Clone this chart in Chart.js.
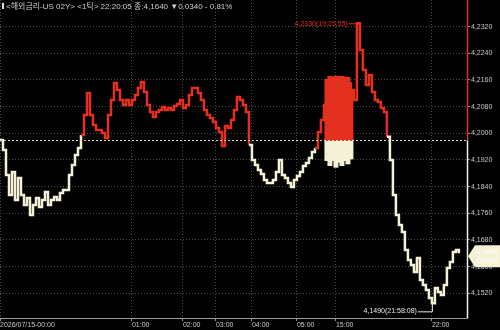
<!DOCTYPE html>
<html>
<head>
<meta charset="utf-8">
<script src="https://cdn.jsdelivr.net/npm/chart.js@4"></script>
<style>
  html, body { margin: 0; padding: 0; background: #000; }
  #wrap { width: 500px; height: 330px; position: relative; }
</style>
</head>
<body>
<div id="wrap"><canvas id="chart_tick"></canvas></div>
<script>
// 1-tick series, one value per sampled tick
const prices = [
  4.1980, 4.1950, 4.1875, 4.1815, 4.1884, 4.1800, 4.1866, 4.1815, 4.1785, 4.1806,
  4.1755, 4.1785, 4.1806, 4.1779, 4.1800, 4.1824, 4.1785, 4.1800, 4.1809, 4.1800,
  4.1821, 4.1830, 4.1830, 4.1875, 4.1905, 4.1935, 4.1956, 4.1995, 4.2055, 4.2121,
  4.2055, 4.2025, 4.2010, 4.2010, 4.2001, 4.1986, 4.2055, 4.2100, 4.2151, 4.2130,
  4.2100, 4.2085, 4.2100, 4.2085, 4.2100, 4.2115, 4.2136, 4.2154, 4.2124, 4.2085,
  4.2064, 4.2049, 4.2064, 4.2070, 4.2079, 4.2070, 4.2076, 4.2070, 4.2082, 4.2088,
  4.2100, 4.2076, 4.2085, 4.2115, 4.2136, 4.2136, 4.2121, 4.2100, 4.2070, 4.2055,
  4.2046, 4.2034, 4.2016, 4.2004, 4.1962, 4.2022, 4.2016, 4.2040, 4.2070, 4.2109,
  4.2100, 4.2085, 4.2064, 4.1965, 4.1920, 4.1905, 4.1890, 4.1878, 4.1860, 4.1851,
  4.1851, 4.1860, 4.1884, 4.1920, 4.1875, 4.1866, 4.1851, 4.1839, 4.1860, 4.1872,
  4.1884, 4.1902, 4.1911, 4.1926, 4.1944, 4.1956, 4.2004, 4.2040, 4.2085, 4.2160,
  4.2166, 4.2160, 4.2169, 4.2155, 4.2166, 4.2160, 4.2150, 4.2130, 4.2100, 4.2330,
  4.2250, 4.2190, 4.2145, 4.2175, 4.2124, 4.2100, 4.2094, 4.2076, 4.2064, 4.1990,
  4.1920, 4.1815, 4.1755, 4.1725, 4.1704, 4.1650, 4.1620, 4.1605, 4.1584, 4.1626,
  4.1560, 4.1545, 4.1530, 4.1506, 4.1490, 4.1536, 4.1524, 4.1515, 4.1545, 4.1596,
  4.1614, 4.1644, 4.1650, 4.1640
];

// dense trading block (high/low range per tick)
const blockStart = 109;
const blockHigh = [4.2160, 4.2169, 4.2166, 4.2169, 4.2166, 4.2169, 4.2160, 4.2166, 4.2130];
const blockLow  = [4.1920, 4.1905, 4.1920, 4.1900, 4.1915, 4.1905, 4.1920, 4.1910, 4.1925];

const prevClose = 4.1980;
const timeIdx = [0, 44, 61, 72, 84, 99, 112, 144];
const timeLabels = ['2026/07/15-00:00', '01:00', '02:00', '03:00', '04:00', '05:00', '15:00', '22:00'];
const priceTicks = [4.152, 4.160, 4.168, 4.176, 4.184, 4.192, 4.200, 4.208, 4.216, 4.224, 4.232];
const maxTime = '19:25:55';
const minTime = '21:58:08';
const header = '<해외금리-US 02Y> <1틱> 22:20:05 종:4,1640 ▼0.0340 - 0.81%';

const RED = '#e4301f';
const CREAM = '#f4f1d6';
const GRID = '#4c4c4c';
const fontFam = '"Liberation Sans", "Noto Sans CJK KR", sans-serif';

function fmt(v) {
  return v.toFixed(4).replace('.', ',');
}

const lineData = prices.map((p, i) => ({ x: i, y: p }));
const redBars = blockHigh.map((h, i) => ({ x: blockStart + i, y: [prevClose, h] }));
const creamBars = blockLow.map((l, i) => ({ x: blockStart + i, y: [l, prevClose] }));

const overlay = {
  id: 'overlay',
  afterDatasetsDraw(chart) {
    const ctx = chart.ctx;
    const area = chart.chartArea;
    const xs = chart.scales.x;
    const ys = chart.scales.y;
    const baseY = Math.round(ys.getPixelForValue(prevClose)) + 0.5;

    ctx.save();
    // previous close line
    ctx.setLineDash([2, 2]);
    ctx.strokeStyle = '#d8d8d8';
    ctx.lineWidth = 1;
    ctx.beginPath();
    ctx.moveTo(area.left, baseY);
    ctx.lineTo(area.right, baseY);
    ctx.stroke();
    ctx.setLineDash([]);

    // right axis line, red above / white below
    const ax = Math.round(area.right) + 0.5;
    ctx.lineWidth = 1.5;
    ctx.strokeStyle = RED;
    ctx.beginPath(); ctx.moveTo(ax, area.top); ctx.lineTo(ax, baseY); ctx.stroke();
    ctx.strokeStyle = '#f0f0f0';
    ctx.beginPath(); ctx.moveTo(ax, baseY); ctx.lineTo(ax, area.bottom); ctx.stroke();

    ctx.font = '7px ' + fontFam;
    ctx.textBaseline = 'middle';
    ctx.lineWidth = 1;

    // max marker
    let hi = 0, lo = 0;
    prices.forEach((p, i) => { if (p > prices[hi]) hi = i; if (p < prices[lo]) lo = i; });
    const hx = xs.getPixelForValue(hi), hy = ys.getPixelForValue(prices[hi]);
    ctx.fillStyle = RED;
    ctx.strokeStyle = RED;
    ctx.textAlign = 'right';
    ctx.fillText(fmt(prices[hi]) + '(' + maxTime + ')', hx - 9, hy + 0.5);
    ctx.beginPath(); ctx.moveTo(hx - 8, hy + 0.5); ctx.lineTo(hx, hy + 0.5); ctx.stroke();

    // min marker
    const lx = xs.getPixelForValue(lo), ly = ys.getPixelForValue(prices[lo]);
    ctx.fillStyle = '#e8e8e8';
    ctx.strokeStyle = '#e8e8e8';
    ctx.fillText(fmt(prices[lo]) + '(' + minTime + ')', lx - 15, ly + 8);
    ctx.beginPath();
    ctx.moveTo(lx - 14, ly + 8.5); ctx.lineTo(lx + 0.5, ly + 8.5); ctx.lineTo(lx + 0.5, ly);
    ctx.stroke();

    // last price box
    const last = prices[prices.length - 1];
    const cy = ys.getPixelForValue(last) + 3;
    const bx = area.right + 1;
    ctx.fillStyle = CREAM;
    ctx.beginPath();
    ctx.moveTo(bx, cy);
    ctx.lineTo(bx + 7, cy - 11);
    ctx.lineTo(chart.width, cy - 11);
    ctx.lineTo(chart.width, cy + 11);
    ctx.lineTo(bx + 7, cy + 11);
    ctx.closePath();
    ctx.fill();
    ctx.fillStyle = '#ffffff';
    ctx.textAlign = 'left';
    ctx.fillText(fmt(last), bx + 9, cy - 4.5);
    ctx.fillText('0,0340', bx + 9, cy + 5);

    // header
    ctx.fillStyle = '#e0e0e0';
    ctx.fillRect(2, 3, 2, 6);
    ctx.font = '8px ' + fontFam;
    ctx.fillStyle = '#cfcfcf';
    ctx.fillText(header, 6, 6.5);
    ctx.restore();
  }
};

new Chart(document.getElementById('chart_tick'), {
  data: {
    datasets: [
      {
        type: 'line',
        data: lineData,
        stepped: true,
        borderWidth: 2.5,
        pointRadius: 0,
        borderColor: CREAM,
        segment: {
          borderColor: c => ((c.p0.parsed.y + c.p1.parsed.y) / 2 >= prevClose ? RED : CREAM)
        },
        order: 0
      },
      {
        type: 'bar',
        data: redBars,
        backgroundColor: RED,
        barPercentage: 1,
        categoryPercentage: 1,
        inflateAmount: 1,
        grouped: false,
        order: 1
      },
      {
        type: 'bar',
        data: creamBars,
        backgroundColor: CREAM,
        barPercentage: 1,
        categoryPercentage: 1,
        inflateAmount: 1,
        grouped: false,
        order: 1
      }
    ]
  },
  options: {
    responsive: true,
    maintainAspectRatio: false,
    animation: false,
    layout: { padding: 0 },
    plugins: {
      legend: false,
      tooltip: { enabled: false }
    },
    scales: {
      x: {
        type: 'linear',
        min: 0,
        max: 155.7,
        offset: false,
        afterBuildTicks: s => { s.ticks = timeIdx.map(v => ({ value: v })); },
        afterFit: s => {
          s.height = 12;
          s.paddingLeft = 0;
          s.paddingRight = 0;
        },
        grid: {
          color: GRID,
          offset: false,
          drawTicks: true,
          tickLength: 3,
          tickColor: '#999'
        },
        border: { color: '#9a9a9a', width: 1, dash: [1, 2] },
        ticks: {
          autoSkip: false,
          maxRotation: 0,
          align: 'start',
          padding: 0,
          color: '#c8c8c8',
          font: { family: fontFam, size: 7 },
          callback: v => timeLabels[timeIdx.indexOf(v)]
        }
      },
      y: {
        position: 'right',
        min: 4.1446,
        max: 4.2400,
        afterBuildTicks: s => { s.ticks = priceTicks.map(v => ({ value: v })); },
        afterFit: s => {
          s.width = 33;
          s.paddingTop = 0;
          s.paddingBottom = 0;
        },
        grid: {
          color: GRID,
          drawTicks: true,
          tickLength: 3,
          tickColor: '#999'
        },
        border: { display: false, dash: [1, 2] },
        ticks: {
          padding: 1,
          color: '#c8c8c8',
          font: { family: fontFam, size: 7 },
          callback: v => fmt(v)
        }
      }
    }
  },
  plugins: [overlay]
});
</script>
</body>
</html>
